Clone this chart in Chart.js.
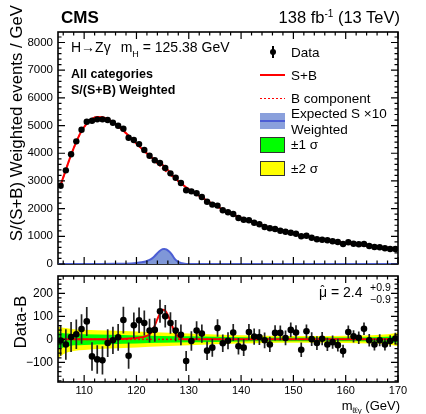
<!DOCTYPE html>
<html>
<head>
<meta charset="utf-8">
<script src="https://cdn.jsdelivr.net/npm/chart.js@4.4.1/dist/chart.umd.min.js"></script>
<style>
  body { margin: 0; background: #fff; }
  #wrap { position: relative; width: 426px; height: 414px; overflow: hidden;
          font-family: "Liberation Sans", Arial, Helvetica, sans-serif; color: #000; }
  canvas { position: absolute; left: 0; }
  .t { position: absolute; white-space: nowrap; line-height: 1; }
  .t sub, .t sup { line-height: 0; }
  .rot { position: absolute; white-space: nowrap; line-height: 1; transform-origin: 0 0; transform: rotate(-90deg); }
  .sw { position: absolute; box-sizing: border-box; }
</style>
</head>
<body>
<div id="wrap">
  <canvas id="top" width="426" height="280" style="top:0"></canvas>
  <canvas id="bottom" width="426" height="152" style="top:262px"></canvas>

  <div class="t" style="left:61px; top:8.5px; font-size:17px; font-weight:bold">CMS</div>
  <div class="t" style="right:26px; top:9px; font-size:16.5px">138 fb<sup style="font-size:10px; vertical-align:6px">-1</sup> (13 TeV)</div>

  <div class="t" style="left:71px; top:40px; font-size:14px">H→Zγ<span style="margin-left:10px">m</span><sub style="font-size:9px; vertical-align:-5px">H</sub> = 125.38 GeV</div>
  <div class="t" style="left:71px; top:67.5px; font-size:12.5px; font-weight:bold">All categories</div>
  <div class="t" style="left:71px; top:83.5px; font-size:12.5px; font-weight:bold">S/(S+B) Weighted</div>

  <!-- legend -->
  <div class="sw" style="left:272px; top:46px; width:1.5px; height:12px; background:#000"></div>
  <div class="sw" style="left:269.5px; top:48.5px; width:6.5px; height:6.5px; border-radius:50%; background:#000"></div>
  <div class="t" style="left:291px; top:46px; font-size:13.5px">Data</div>

  <div class="sw" style="left:260px; top:74px; width:25px; height:2px; background:#ff0000"></div>
  <div class="t" style="left:291px; top:69px; font-size:13.5px">S+B</div>

  <div class="sw" style="left:260px; top:97.5px; width:25px; height:1.5px; background:repeating-linear-gradient(90deg,#ff0000 0 2px,transparent 2px 4px)"></div>
  <div class="t" style="left:291px; top:92px; font-size:13.5px">B component</div>

  <div class="sw" style="left:260px; top:113px; width:25px; height:16px; background:#8aa0dc"></div>
  <div class="sw" style="left:260px; top:120px; width:25px; height:2px; background:#4c5ed4"></div>
  <div class="t" style="left:291px; top:107px; font-size:13.5px">Expected S ×10</div>
  <div class="t" style="left:291px; top:123px; font-size:13.5px">Weighted</div>

  <div class="sw" style="left:260px; top:137px; width:25px; height:15.5px; background:#00ff00; border:1px solid #333"></div>
  <div class="t" style="left:291px; top:138px; font-size:13.5px">±1 σ</div>
  <div class="sw" style="left:260px; top:160.5px; width:25px; height:15.5px; background:#ffff00; border:1px solid #333"></div>
  <div class="t" style="left:291px; top:162px; font-size:13.5px">±2 σ</div>

  <!-- axis titles -->
  <div class="rot" style="left:9px; top:265px; width:260px; text-align:right; font-size:16.8px">S/(S+B) Weighted events / GeV</div>
  <div class="rot" style="left:12px; top:382px; width:120px; text-align:center; font-size:17px">Data-B</div>
  <div class="t" style="right:26px; top:399px; font-size:13px">m<sub style="font-size:8px; vertical-align:-3px">ℓℓγ</sub> (GeV)</div>

  <div class="t" style="left:319px; top:285px; font-size:14px"><span style="position:relative">μ<span style="position:absolute; left:1.5px; top:0.5px; font-size:12px">ˆ</span></span> = 2.4</div>
  <div class="t" style="left:370px; top:282px; font-size:10.5px">+0.9</div>
  <div class="t" style="left:370px; top:294px; font-size:10.5px">−0.9</div>
</div>

<script>
// 1 GeV bins from 105 to 170
const binCenters = Array.from({ length: 65 }, (_, i) => 105.5 + i);

// weighted events per GeV in each bin
const dataWeighted = [
  2828, 3383, 3962, 4430, 4850, 5140, 5175, 5225, 5225, 5200,
  5103, 4995, 4886, 4560, 4478, 4330, 4117, 3911, 3745, 3647,
  3467, 3275, 3117, 2925, 2662, 2625, 2553, 2420, 2250, 2145,
  2110, 1939, 1867, 1806, 1661, 1600, 1578, 1492, 1434, 1336,
  1289, 1264, 1203, 1166, 1130, 1094, 1000, 1022, 950, 892,
  878, 856, 820, 794, 722, 784, 733, 711, 722, 650,
  614, 603, 567, 542, 542
];

// data minus background-only fit
const dataMinusB = [
  -5, -22, 10, 22, 45, 78, -74, -87, -91, -16,
  -4, 9, 84, -71, 61, 83, 71, 38, 41, 122,
  100, 71, 38, 20, -94, -7, 38, 25, -49, -36,
  49, -17, -6, 30, -30, -36, 32, 12, 10, -4,
  -22, 28, 28, 6, 41, 30, -45, 35, 1, -16,
  3, -22, -12, -25, -51, 32, 13, 7, 46, -4,
  -22, -4, -22, -7, 4
];

// statistical uncertainty per bin
const dataErr = [
  66, 66, 65, 64, 64, 63, 62, 62, 61, 60,
  59, 58, 58, 57, 56, 55, 54, 52, 51, 50,
  49, 47, 46, 45, 43, 42, 41, 40, 40, 39,
  38, 38, 37, 37, 36, 36, 35, 35, 34, 34,
  33, 33, 32, 32, 32, 31, 31, 30, 30, 30,
  29, 29, 29, 28, 28, 28, 27, 27, 27, 27,
  26, 26, 26, 25, 25
];

// background component of the fit at the bin centres
const bkgFit = [
  2840, 3400, 3940, 4410, 4800, 5070, 5240, 5310, 5305, 5230,
  5110, 4970, 4810, 4630, 4440, 4250, 4065, 3885, 3710, 3540,
  3370, 3210, 3060, 2910, 2770, 2640, 2520, 2400, 2290, 2180,
  2070, 1965, 1870, 1785, 1705, 1630, 1560, 1495, 1432, 1372,
  1315, 1260, 1210, 1160, 1115, 1070, 1030, 990, 952, 916,
  882, 850, 820, 792, 765, 740, 716, 693, 671, 650,
  630, 611, 593, 576, 560
];

// fitted signal at the bin centres, starting at 117.5 GeV
const sigBinStart = 117.5;
const sigAtBins = [2, 3, 5, 7, 12, 24, 60, 112, 124, 78, 25, 4, 1];

// fitted signal (S+B minus B) on a finer grid
const sigFitMass = [105, 115, 118, 120, 121, 122, 122.5, 123, 123.5, 124, 124.5, 125, 125.5, 126, 126.5, 127, 127.5, 128, 128.5, 129, 130, 170];
const sigFitVal  = [0, 1, 3, 6, 9, 15, 22, 35, 60, 88, 112, 128, 124, 105, 78, 48, 25, 11, 4, 1, 0, 0];

// expected signal x10
const sigExpMass = [105, 112, 116, 118, 119, 120, 121, 121.5, 122, 122.5, 123, 123.5, 124, 124.5, 125, 125.3, 125.7, 126.2, 126.7, 127.2, 127.7, 128.2, 128.7, 129.2, 130, 132, 170];
const sigExpVal  = [0, 3, 6, 12, 20, 35, 60, 80, 110, 150, 205, 290, 390, 480, 535, 545, 530, 460, 360, 215, 115, 55, 28, 12, 4, 1, 0];

// background-only fit uncertainty bands
const bandMass = [105, 106, 107, 108, 110, 115, 120, 125, 130, 135, 140, 145, 150, 155, 160, 165, 168, 170];
const band2Up  = [55, 50, 47, 44, 42, 38, 34, 30, 25, 21, 18, 16, 15, 15, 16, 18, 22, 30];
const band2Dn  = [-82, -65, -55, -50, -46, -40, -35, -30, -25, -21, -18, -16, -15, -15, -16, -18, -22, -30];
const band1Up  = [30, 27, 25, 23, 22, 20, 17, 15, 13, 11, 9, 8, 8, 8, 8, 9, 11, 15];
const band1Dn  = [-45, -35, -30, -26, -24, -21, -18, -15, -13, -11, -9, -8, -8, -8, -8, -9, -11, -15];

// axis tick labels
const massTicks = [110, 120, 130, 140, 150, 160, 170];
const eventTicks = [0, 1000, 2000, 3000, 4000, 5000, 6000, 7000, 8000];
const diffTicks = [-100, 0, 100, 200];

const FONT = '"Liberation Sans", Arial, Helvetica, sans-serif';

const pts = (xs, ys) => xs.map((x, i) => ({ x: x, y: ys[i] }));
const fixedTicks = values => scale => { scale.ticks = values.map(v => ({ value: v })); };

// vertical error bars as one line dataset broken by gaps
function errorBars(xs, ys, es) {
  const out = [];
  xs.forEach((x, i) => {
    out.push({ x: x, y: ys[i] - es[i] }, { x: x, y: ys[i] + es[i] }, { x: x, y: null });
  });
  return out;
}

const sPlusB = bkgFit.map((b, i) => {
  const k = Math.round(binCenters[i] - sigBinStart);
  return b + (k >= 0 && k < sigAtBins.length ? sigAtBins[k] : 0);
});

// ROOT-style frame with ticks inside on all four sides
function drawFrame(chart) {
  const { ctx, chartArea: a } = chart;
  ctx.save();
  ctx.strokeStyle = '#000';
  ctx.lineWidth = 1.6;
  ctx.strokeRect(a.left, a.top, a.right - a.left, a.bottom - a.top);
  ctx.restore();
}

function onStep(v, step) {
  return Math.abs(v / step - Math.round(v / step)) < 1e-6;
}

function drawTicks(chart, o) {
  const { ctx, chartArea: a, scales } = chart;
  const x = scales.x, y = scales.y;
  ctx.save();
  ctx.strokeStyle = '#000';
  ctx.lineWidth = 1.2;
  ctx.beginPath();
  const nx = Math.round((x.max - x.min) / o.xMinor) + 1;
  const x0 = Math.ceil(x.min / o.xMinor - 1e-9) * o.xMinor;
  for (let i = 0; i < nx; i++) {
    const v = x0 + i * o.xMinor;
    if (v > x.max + 1e-9) break;
    const px = x.getPixelForValue(v);
    const len = onStep(v, o.xMajor) ? o.major : o.minor;
    ctx.moveTo(px, a.bottom); ctx.lineTo(px, a.bottom - len);
    ctx.moveTo(px, a.top); ctx.lineTo(px, a.top + len);
  }
  const ny = Math.round((y.max - y.min) / o.yMinor) + 1;
  const y0 = Math.ceil(y.min / o.yMinor - 1e-9) * o.yMinor;
  for (let i = 0; i < ny; i++) {
    const v = y0 + i * o.yMinor;
    if (v > y.max + 1e-9) break;
    const py = y.getPixelForValue(v);
    const len = onStep(v, o.yMajor) ? o.major : o.minor;
    ctx.moveTo(a.left, py); ctx.lineTo(a.left + len, py);
    ctx.moveTo(a.right, py); ctx.lineTo(a.right - len, py);
  }
  ctx.stroke();
  ctx.restore();
}

const frameTicks = {
  id: 'frameTicks',
  beforeDatasetsDraw(chart, args, opts) {
    if (opts.frameFirst) drawFrame(chart);
  },
  afterDatasetsDraw(chart, args, opts) {
    if (!opts.frameFirst) drawFrame(chart);
    drawTicks(chart, opts);
  }
};

// upper panel: weighted mass spectrum
new Chart(document.getElementById('top'), {
  type: 'line',
  data: {
    datasets: [
      {
        label: 'Data',
        data: pts(binCenters, dataWeighted),
        showLine: false,
        pointRadius: 3.2,
        pointBackgroundColor: '#000',
        pointBorderWidth: 0,
        order: 1
      },
      {
        label: 'Data errors',
        data: errorBars(binCenters, dataWeighted, dataErr),
        borderColor: '#000',
        borderWidth: 1.5,
        pointRadius: 0,
        spanGaps: false,
        order: 2
      },
      {
        label: 'S+B',
        data: pts(binCenters, sPlusB),
        borderColor: '#ff0000',
        borderWidth: 2,
        pointRadius: 0,
        cubicInterpolationMode: 'monotone',
        order: 3
      },
      {
        label: 'B component',
        data: pts(binCenters, bkgFit),
        borderColor: '#ff0000',
        borderWidth: 1.5,
        borderDash: [2, 2],
        pointRadius: 0,
        cubicInterpolationMode: 'monotone',
        order: 4
      },
      {
        label: 'Expected S x10',
        data: pts(sigExpMass, sigExpVal),
        borderColor: '#4c5ed4',
        backgroundColor: '#7f97d8',
        borderWidth: 2,
        fill: 'origin',
        pointRadius: 0,
        cubicInterpolationMode: 'monotone',
        order: 5
      }
    ]
  },
  options: {
    responsive: false,
    animation: false,
    events: [],
    layout: { padding: { top: 32, right: 28, bottom: 16, left: 0 } },
    plugins: {
      legend: { display: false },
      tooltip: { enabled: false },
      frameTicks: { xMajor: 10, xMinor: 2, yMajor: 1000, yMinor: 200, major: 7, minor: 3.5, frameFirst: true }
    },
    scales: {
      x: { type: 'linear', min: 105, max: 170, display: false },
      y: {
        min: 0,
        max: 8380,
        grid: { display: false, drawTicks: false },
        border: { display: false },
        afterBuildTicks: fixedTicks(eventTicks),
        ticks: {
          padding: 5,
          color: '#000',
          font: { family: FONT, size: 11.5 },
          callback: v => String(v)
        },
        afterFit: s => { s.width = 58; }
      }
    }
  },
  plugins: [frameTicks]
});

// lower panel: data minus background
new Chart(document.getElementById('bottom'), {
  type: 'line',
  data: {
    datasets: [
      {
        label: 'Data-B',
        data: pts(binCenters, dataMinusB),
        showLine: false,
        pointRadius: 3.3,
        pointBackgroundColor: '#000',
        pointBorderWidth: 0,
        order: 1
      },
      {
        label: 'Data-B errors',
        data: errorBars(binCenters, dataMinusB, dataErr),
        borderColor: '#222',
        borderWidth: 1.7,
        pointRadius: 0,
        spanGaps: false,
        order: 2
      },
      {
        label: 'S+B fit',
        data: pts(sigFitMass, sigFitVal),
        borderColor: '#ff0000',
        borderWidth: 2,
        pointRadius: 0,
        cubicInterpolationMode: 'monotone',
        order: 3
      },
      {
        label: 'B component',
        data: pts([105, 170], [0, 0]),
        borderColor: '#ff0000',
        borderWidth: 1.5,
        borderDash: [2, 2],
        pointRadius: 0,
        order: 4
      },
      {
        label: '+1 sigma',
        data: pts(bandMass, band1Up),
        borderWidth: 0,
        pointRadius: 0,
        backgroundColor: '#00ff00',
        fill: '+1',
        cubicInterpolationMode: 'monotone',
        order: 11
      },
      {
        label: '-1 sigma',
        data: pts(bandMass, band1Dn),
        borderWidth: 0,
        pointRadius: 0,
        fill: false,
        cubicInterpolationMode: 'monotone',
        order: 11
      },
      {
        label: '+2 sigma',
        data: pts(bandMass, band2Up),
        borderWidth: 0,
        pointRadius: 0,
        backgroundColor: '#ffff00',
        fill: '+1',
        cubicInterpolationMode: 'monotone',
        order: 12
      },
      {
        label: '-2 sigma',
        data: pts(bandMass, band2Dn),
        borderWidth: 0,
        pointRadius: 0,
        fill: false,
        cubicInterpolationMode: 'monotone',
        order: 12
      }
    ]
  },
  options: {
    responsive: false,
    animation: false,
    events: [],
    layout: { padding: { top: 14, right: 28, bottom: 12, left: 0 } },
    plugins: {
      legend: { display: false },
      tooltip: { enabled: false },
      frameTicks: { xMajor: 10, xMinor: 2, yMajor: 100, yMinor: 20, major: 7, minor: 3.5, frameFirst: false }
    },
    scales: {
      x: {
        type: 'linear',
        min: 105,
        max: 170,
        grid: { display: false, drawTicks: false },
        border: { display: false },
        afterBuildTicks: fixedTicks(massTicks),
        ticks: {
          autoSkip: false,
          maxRotation: 0,
          padding: 2,
          color: '#000',
          font: { family: FONT, size: 11 }
        },
        afterFit: s => { s.height = 20; }
      },
      y: {
        min: -185,
        max: 275,
        grid: { display: false, drawTicks: false },
        border: { display: false },
        afterBuildTicks: fixedTicks(diffTicks),
        ticks: {
          padding: 5,
          color: '#000',
          font: { family: FONT, size: 12 },
          callback: v => String(v).replace('-', '\u2212')
        },
        afterFit: s => { s.width = 58; }
      }
    }
  },
  plugins: [frameTicks]
});
</script>
</body>
</html>
